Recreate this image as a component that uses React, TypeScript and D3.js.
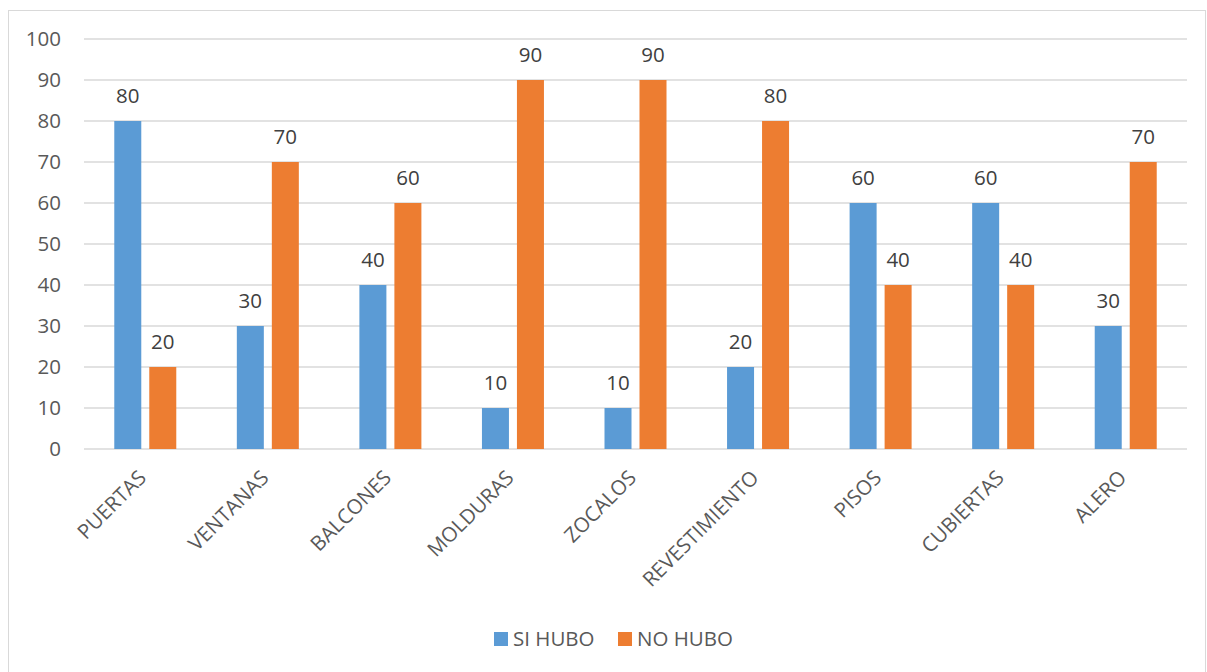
import React from "react";
import * as d3 from "d3";

const categories = ["PUERTAS", "VENTANAS", "BALCONES", "MOLDURAS", "ZOCALOS", "REVESTIMIENTO", "PISOS", "CUBIERTAS", "ALERO"];
const siHubo = [80, 30, 40, 10, 10, 20, 60, 60, 30];
const noHubo = [20, 70, 60, 90, 90, 80, 40, 40, 70];
const yTicks = [0, 10, 20, 30, 40, 50, 60, 70, 80, 90, 100];
const seriesNames = ["SI HUBO", "NO HUBO"];
const colors = ["#5B9BD5", "#ED7D31"];

const W = 1207, H = 672;
const left = 84, right = 1187, top = 39, bottom = 449;
const FONT = "'Open Sans', sans-serif";
const TXT = "#595959";
const FS = 20.5;

export default function App() {
  const x = d3.scaleBand<string>().domain(categories).range([left, right]).paddingInner(0).paddingOuter(0);
  const y = d3.scaleLinear().domain([0, 100]).range([bottom, top]);
  const bw = x.bandwidth();
  const barW = 27;
  const gap = 8;
  const series = [siHubo, noHubo];
  return (
    <svg width={W} height={H} style={{ position: "absolute", left: 0, top: 0, background: "#fff" }}>
      <rect x={8.5} y={10.5} width={1197} height={700} fill="#fff" stroke="#D9D9D9" strokeWidth={1} />
      {yTicks.map((t) => (
        <g key={t}>
          <line x1={left} x2={right} y1={y(t)} y2={y(t)} stroke="#D9D9D9" strokeWidth={1.3} />
          <text x={61} y={y(t)} dy="0.35em" textAnchor="end" fontFamily={FONT} fontSize={FS} fill={TXT}>{t}</text>
        </g>
      ))}
      {categories.map((c, i) => {
        const cx = (x(c) as number) + bw / 2;
        return (
          <g key={c}>
            {series.map((s, k) => {
              const bx = k === 0 ? cx - gap / 2 - barW : cx + gap / 2;
              return (
                <g key={k}>
                  <rect x={bx} y={y(s[i])} width={barW} height={y(0) - y(s[i])} fill={colors[k]} />
                  <text x={bx + barW / 2} y={y(s[i]) - 25} dy="0.35em" textAnchor="middle" fontFamily={FONT} fontSize={FS} fill="#404040">{s[i]}</text>
                </g>
              );
            })}
            <text transform={`translate(${cx - 3},${474}) rotate(-45)`} textAnchor="end" dy="0.35em" fontFamily={FONT} fontSize={FS} fill={TXT}>{c}</text>
          </g>
        );
      })}
      <g>
        <rect x={494} y={632} width={14} height={14} fill={colors[0]} />
        <text x={513} y={639} dy="0.35em" fontFamily={FONT} fontSize={FS} fill={TXT}>{seriesNames[0]}</text>
        <rect x={618} y={632} width={14} height={14} fill={colors[1]} />
        <text x={637} y={639} dy="0.35em" fontFamily={FONT} fontSize={FS} fill={TXT}>{seriesNames[1]}</text>
      </g>
    </svg>
  );
}
